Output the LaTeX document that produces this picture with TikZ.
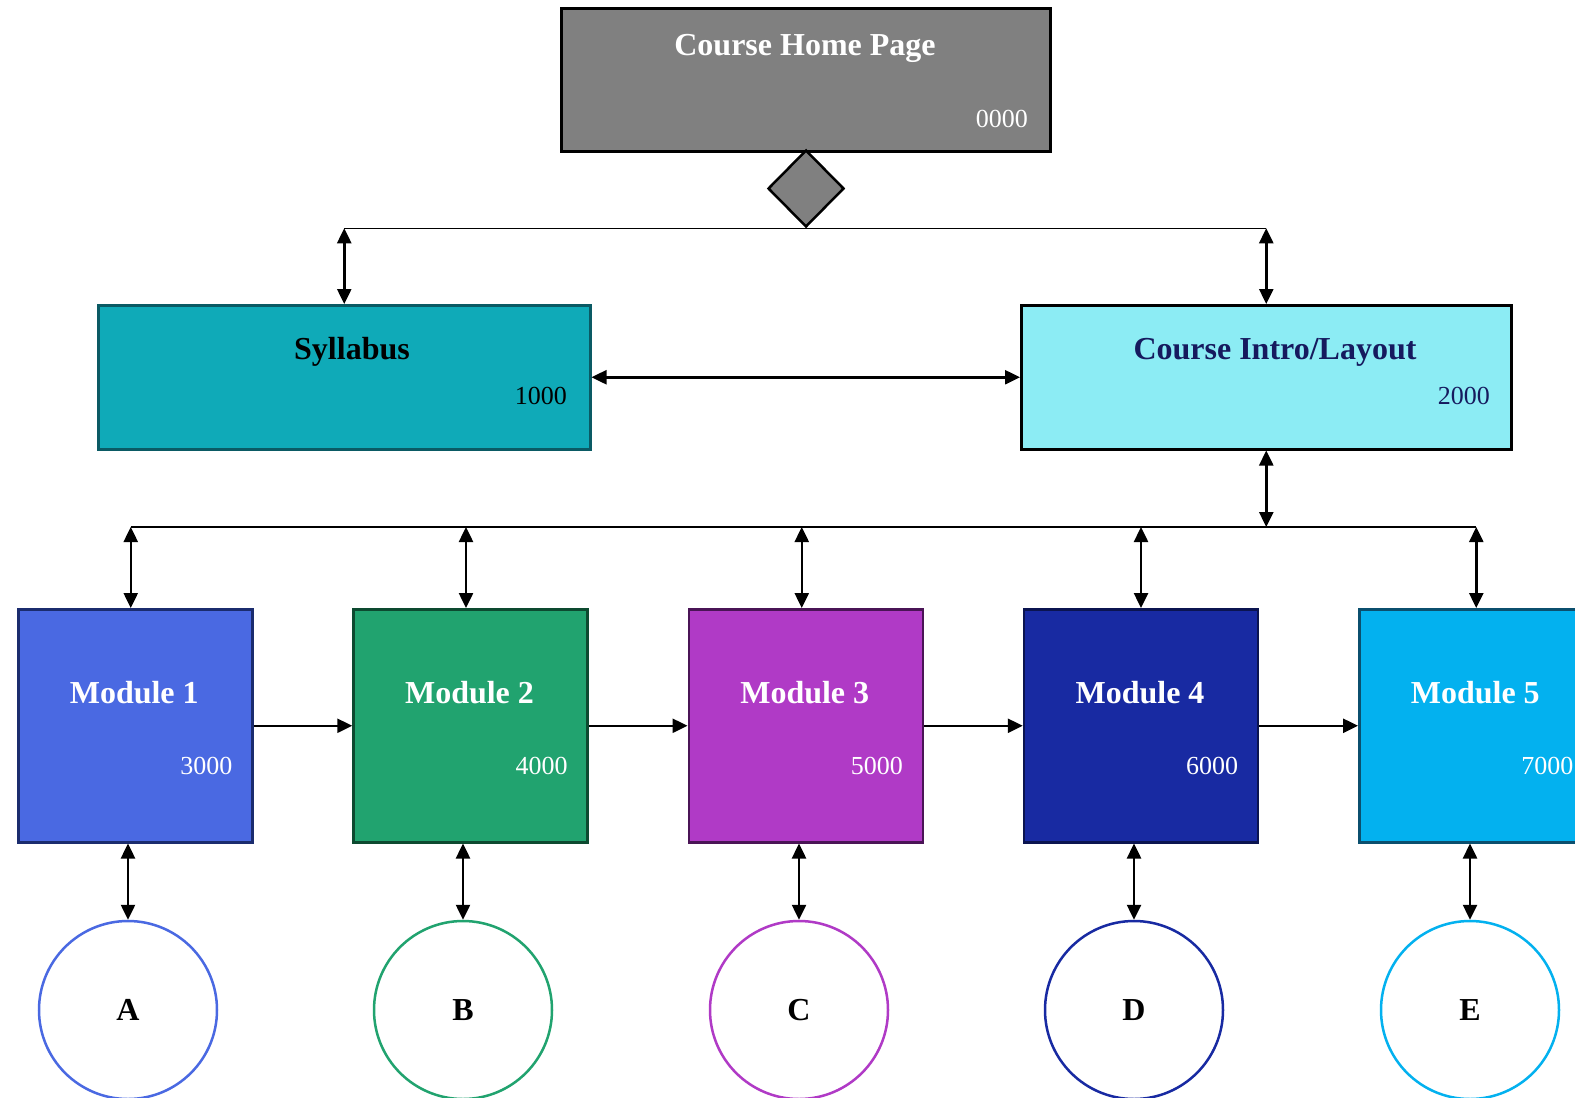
\documentclass[tikz,border=0pt]{standalone}
\usepackage{fontspec}
\setmainfont{Liberation Serif}
\usetikzlibrary{arrows.meta,shapes.geometric}
\definecolor{homegray}{HTML}{808080}
\definecolor{sylfill}{HTML}{0FAAB8}
\definecolor{syldraw}{HTML}{0A5A64}
\definecolor{introfill}{HTML}{8CECF4}
\definecolor{introtext}{HTML}{161A5E}
\definecolor{mAfill}{HTML}{4A69E2}
\definecolor{mAdraw}{HTML}{1B2C6E}
\definecolor{mBfill}{HTML}{21A36F}
\definecolor{mBdraw}{HTML}{0D4A30}
\definecolor{mCfill}{HTML}{B03AC6}
\definecolor{mCdraw}{HTML}{4A1456}
\definecolor{mDfill}{HTML}{182AA2}
\definecolor{mDdraw}{HTML}{0B1450}
\definecolor{mEfill}{HTML}{03B1EF}
\definecolor{mEdraw}{HTML}{0B4F6E}
\begin{document}
\begin{tikzpicture}[x=1pt,y=-1pt,
  boxn/.style={draw, rectangle, line width=2.5pt, inner sep=0pt, anchor=north west},
  modbox/.style={boxn, minimum width=234pt, minimum height=233pt},
  ttl/.style={font=\fontsize{32}{38}\selectfont\bfseries, anchor=base, inner sep=0pt},
  numl/.style={font=\fontsize{26}{31}\selectfont, anchor=base east, inner sep=0pt},
  circ/.style={draw, circle, line width=2.5pt, fill=white, minimum size=178pt, inner sep=0pt, font=\fontsize{32}{38}\selectfont\bfseries},
  tip/.tip={Triangle[length=15pt,width=14pt]},
  dbl/.style={line width=2.5pt, tip-tip},
  arr/.style={line width=2.5pt, -tip},
  bus/.style={line width=1.5pt}]
\useasboundingbox (0,0) rectangle (1575,1098);
\fill[white] (0,0) rectangle (1575,1098);

% top
\node[boxn, fill=homegray, draw=black, minimum width=489pt, minimum height=143pt] (home) at (560,7) {};
\node[ttl, text=white] (homet) at (805,55) {Course Home Page};
\node[numl, text=white] (homen) at (1028,127) {0000};
\node[draw=black, fill=homegray, diamond, line width=2.5pt, inner sep=0pt, minimum width=76pt, minimum height=77pt] (dia) at (806,188.5) {};

% second row
\node[boxn, fill=sylfill, draw=syldraw, minimum width=492pt, minimum height=144pt] (syl) at (97,304) {};
\node[ttl, text=black] (sylt) at (352,359) {Syllabus};
\node[numl, text=black] (syln) at (567,404) {1000};
\node[boxn, fill=introfill, draw=black, minimum width=490pt, minimum height=144pt] (intro) at (1020,304) {};
\node[ttl, text=introtext] (introt) at (1275,359) {Course Intro/Layout};
\node[numl, text=introtext] (intron) at (1490,404) {2000};

\coordinate (bl) at (syl.north |- dia.south);
\coordinate (br) at (intro.north |- dia.south);
\draw[bus] (bl) -- (br);
\draw[dbl] (bl) -- (syl.north);
\draw[dbl] (br) -- (intro.north);
\draw[dbl] (syl.east) -- (intro.west);

% modules
\node[modbox, fill=mAfill, draw=mAdraw] (m1) at (17,608) {};
\node[modbox, fill=mBfill, draw=mBdraw] (m2) at (352.25,608) {};
\node[modbox, fill=mCfill, draw=mCdraw] (m3) at (687.5,608) {};
\node[modbox, fill=mDfill, draw=mDdraw] (m4) at (1022.75,608) {};
\node[modbox, fill=mEfill, draw=mEdraw] (m5) at (1358,608) {};

\foreach \m/\t/\n in {m1/Module 1/3000, m2/Module 2/4000, m3/Module 3/5000, m4/Module 4/6000, m5/Module 5/7000}{
  \node[ttl, text=white] (\m t) at ([xshift=-1pt,yshift=22.5pt]\m.center) {\t};
  \node[numl, text=white] (\m n) at ([xshift=-21pt,yshift=-48.5pt]\m.east) {\n};
}

\coordinate (b2r) at (intro.south |- 0,527);
\draw[dbl] (intro.south) -- (b2r);
\coordinate (t1) at ([xshift=-4.5pt]m1.north);
\coordinate (t2) at ([xshift=-4.5pt]m2.north);
\coordinate (t3) at ([xshift=-4pt]m3.north);
\coordinate (t4) at (m4.north);
\coordinate (t5) at (m5.north);
\draw[bus] (t1 |- b2r) -- (t5 |- b2r);
\foreach \t in {t1,t2,t3,t4,t5}{
  \draw[dbl] (\t |- b2r) -- (\t);
}
\draw[arr] (m1.east) -- (m2.west);
\draw[arr] (m2.east) -- (m3.west);
\draw[arr] (m3.east) -- (m4.west);
\draw[arr] (m4.east) -- (m5.west);

% circles
\node[circ, draw=mAfill] (cA) at (128,1010) {A};
\node[circ, draw=mBfill] (cB) at (463,1010) {B};
\node[circ, draw=mCfill] (cC) at (799,1010) {C};
\node[circ, draw=mDfill] (cD) at (1134,1010) {D};
\node[circ, draw=mEfill] (cE) at (1470,1010) {E};
\draw[dbl] (m1.south -| cA.north) -- (cA.north);
\draw[dbl] (m2.south -| cB.north) -- (cB.north);
\draw[dbl] (m3.south -| cC.north) -- (cC.north);
\draw[dbl] (m4.south -| cD.north) -- (cD.north);
\draw[dbl] (m5.south -| cE.north) -- (cE.north);
\end{tikzpicture}
\end{document}
